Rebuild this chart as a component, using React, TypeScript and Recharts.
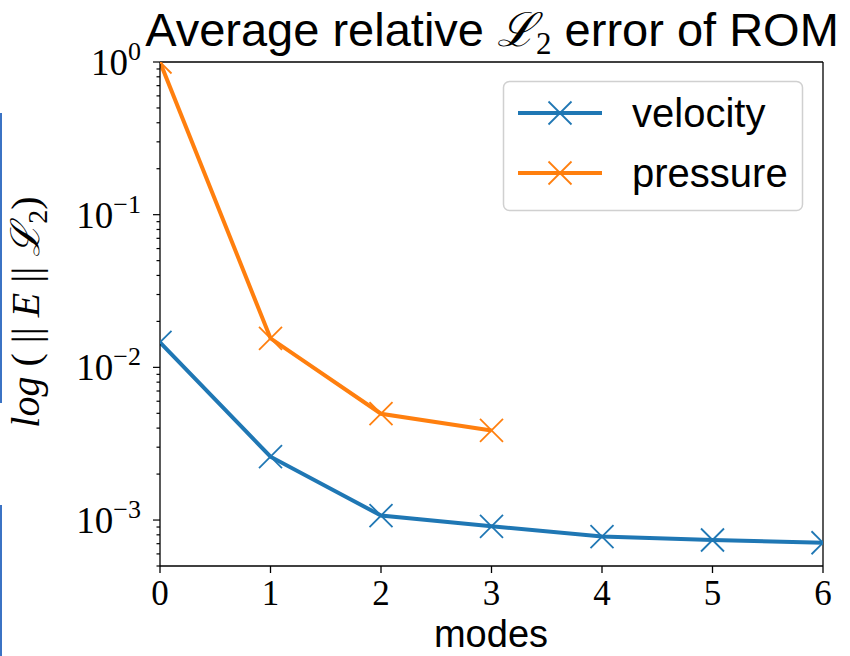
import React from 'react'
import { LineChart, Line, XAxis, YAxis, Legend, ReferenceLine } from 'recharts'

// values (log y axis)
const modes = [0, 1, 2, 3, 4, 5, 6]
const velocityErr = [0.0146, 0.0026, 0.00107, 0.00091, 0.00078, 0.00074, 0.00071]
const pressureErr = [1.0, 0.0155, 0.00497, 0.00386, null, null, null]

const xTicks = [0, 1, 2, 3, 4, 5, 6]
const majorTicks = [0.001, 0.01, 0.1, 1]
const minorTicks = [
  0.0005, 0.0006, 0.0007, 0.0008, 0.0009,
  0.002, 0.003, 0.004, 0.005, 0.006, 0.007, 0.008, 0.009,
  0.02, 0.03, 0.04, 0.05, 0.06, 0.07, 0.08, 0.09,
  0.2, 0.3, 0.4, 0.5, 0.6, 0.7, 0.8, 0.9
]
const seriesNames = ['velocity', 'pressure']

const BLUE = '#1f77b4'
const ORANGE = '#ff7f0e'
const SERIF = '"Liberation Serif", "DejaVu Serif", serif'
const SANS = '"Liberation Sans", Arial, sans-serif'

const data = modes.map((m, i) => ({
  mode: m,
  velocity: velocityErr[i],
  pressure: pressureErr[i]
}))

const Cross = ({ cx, cy, stroke, r = 11.5 }: any) => {
  if (cx == null || cy == null || Number.isNaN(cy)) return null
  return (
    <g>
      <line x1={cx - r} y1={cy - r} x2={cx + r} y2={cy + r} stroke={stroke} strokeWidth={1.8} />
      <line x1={cx - r} y1={cy + r} x2={cx + r} y2={cy - r} stroke={stroke} strokeWidth={1.8} />
    </g>
  )
}

const XTick = ({ x, y, payload }: any) => (
  <text x={x} y={y + 32} textAnchor="middle" fontFamily={SERIF} fontSize={35} fill="#000">
    {payload.value}
  </text>
)

const YTick = ({ x, y, payload }: any) => {
  const v = payload.value
  const major = majorTicks.includes(v)
  const exp = Math.round(Math.log10(v))
  return (
    <g>
      <line x1={major ? x : x + 3.5} y1={y} x2={x + 7} y2={y} stroke="#000" strokeWidth={1.2} />
      {major && (
        <text x={x - 12} y={y + 13} textAnchor="end" fontFamily={SERIF} fontSize={37} fill="#000">
          10
          <tspan fontSize={26} dy={-15}>{exp < 0 ? '\u2212' + Math.abs(exp) : exp}</tspan>
        </text>
      )}
    </g>
  )
}

const LegendBox = () => (
  <svg width={300} height={130} style={{ overflow: 'visible' }}>
    <rect x={0.5} y={0.5} width={299} height={129} rx={6} fill="#fff" fillOpacity={0.8} stroke="#d0d0d0" strokeWidth={1.5} />
    {seriesNames.map((name, i) => {
      const cy = 32 + i * 60
      const color = i === 0 ? BLUE : ORANGE
      return (
        <g key={name}>
          <line x1={15} y1={cy} x2={99} y2={cy} stroke={color} strokeWidth={4} />
          <Cross cx={57} cy={cy} stroke={color} />
          <text x={129} y={cy + 14} fontFamily={SANS} fontSize={40} fill="#000">{name}</text>
        </g>
      )
    })}
  </svg>
)

export default function App() {
  return (
    <div style={{ position: 'absolute', left: 0, top: 0, width: 850, height: 656, background: '#fff' }}>
      <LineChart width={850} height={656} data={data} margin={{ top: 62, right: 27, bottom: 40, left: 60 }}>
        <XAxis
          dataKey="mode"
          type="number"
          domain={[0, 6]}
          ticks={xTicks}
          interval={0}
          height={50}
          tickSize={7}
          tickMargin={0}
          stroke="#000"
          strokeWidth={1.3}
          tick={XTick}
          allowDataOverflow
        />
        <YAxis
          scale="log"
          domain={[0.0005, 1]}
          ticks={[...minorTicks, ...majorTicks]}
          interval={0}
          width={100}
          tickLine={false}
          tickSize={7}
          tickMargin={0}
          stroke="#000"
          strokeWidth={1.3}
          tick={YTick}
          allowDataOverflow
        />
        <ReferenceLine y={1} stroke="#000" strokeWidth={1.3} />
        <ReferenceLine x={6} stroke="#000" strokeWidth={1.3} />
        <Line
          dataKey="velocity"
          stroke={BLUE}
          strokeWidth={4}
          isAnimationActive={false}
          dot={(p: any) => <Cross key={'v' + p.index} cx={p.cx} cy={p.cy} stroke={BLUE} />}
        />
        <Line
          dataKey="pressure"
          stroke={ORANGE}
          strokeWidth={4}
          isAnimationActive={false}
          dot={(p: any) => <Cross key={'p' + p.index} cx={p.cx} cy={p.cy} stroke={ORANGE} />}
        />
        <Legend
          layout="horizontal"
          verticalAlign="middle"
          align="center"
          content={LegendBox}
          wrapperStyle={{ left: 503, top: 81, width: 300, height: 130 }}
        />
      </LineChart>
      <svg width={850} height={656} style={{ position: 'absolute', left: 0, top: 0, pointerEvents: 'none' }}>
        <rect x={0} y={113} width={2} height={290} fill="#3b73c4" />
        <rect x={0} y={505} width={2} height={151} fill="#3b73c4" />
        <text x={492} y={46} textAnchor="middle" fontFamily={SANS} fontSize={47} fill="#000">
          Average relative{' '}
          <tspan fontFamily={SERIF} fontStyle="italic">{'\u2112'}</tspan>
          <tspan fontFamily={SERIF} fontSize={31} dy={8}>2</tspan>
          <tspan dy={-8}> error of ROM</tspan>
        </text>
        <text transform="translate(39,312) rotate(-90)" textAnchor="middle" fontFamily={SERIF} fontSize={40} fill="#000">
          <tspan fontStyle="italic">log</tspan>
          {' ( || '}
          <tspan fontStyle="italic">E</tspan>
          {' || '}
          <tspan fontStyle="italic">{'\u2112'}</tspan>
          <tspan fontSize={28} dy={8}>2</tspan>
          <tspan dy={-8}>)</tspan>
        </text>
        <text x={491} y={647} textAnchor="middle" fontFamily={SANS} fontSize={38} fill="#000">modes</text>
      </svg>
    </div>
  )
}
